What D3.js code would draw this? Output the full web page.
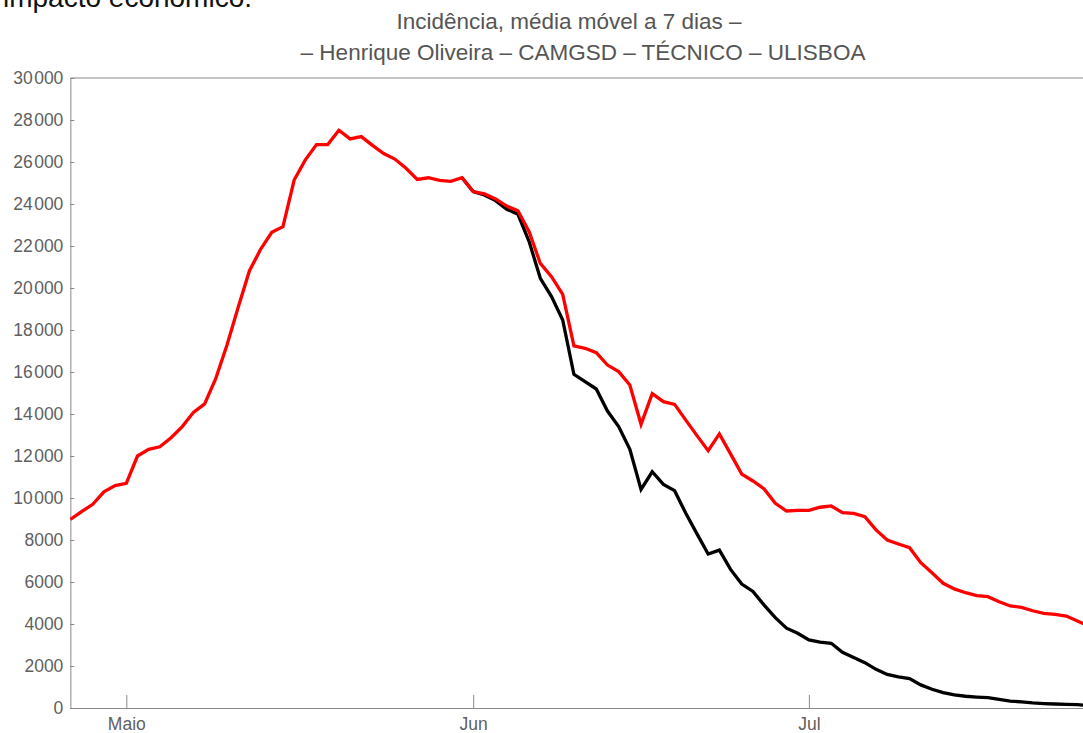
<!DOCTYPE html>
<html>
<head>
<meta charset="utf-8">
<script src="https://cdn.jsdelivr.net/npm/d3@7"></script>
<style>
  html, body { margin: 0; padding: 0; background: #fff; }
  svg { display: block; }
</style>
</head>
<body>
<svg id="chart" width="1083" height="733"></svg>
<script>
// ---- data ----
const startDate = "2022-04-26"; // first daily point
const titleLines = ["Incidência, média móvel a 7 dias –", "– Henrique Oliveira – CAMGSD – TÉCNICO – ULISBOA"];
const headerText = "impacto económico.";
const monthTicks = ["2022-05-01", "2022-06-01", "2022-07-01"];
const monthLabels = ["Maio", "Jun", "Jul"];
const yTicks = [0, 2000, 4000, 6000, 8000, 10000, 12000, 14000, 16000, 18000, 20000, 22000, 24000, 26000, 28000, 30000];
const yTickLabels = ["0", "2000", "4000", "6000", "8000", "10\u200A000", "12\u200A000", "14\u200A000", "16\u200A000", "18\u200A000", "20\u200A000", "22\u200A000", "24\u200A000", "26\u200A000", "28\u200A000", "30\u200A000"];

// red series (observed + slower scenario)
const redValues = [
  8980, 9350, 9700, 10290, 10590, 10700, 12000, 12320, 12440, 12870,
  13400, 14080, 14480, 15700, 17290, 19080, 20810, 21840, 22650, 22920,
  25140, 26100, 26830, 26830, 27510, 27100, 27210, 26790, 26400, 26140,
  25700, 25170, 25250, 25130, 25080, 25250, 24590, 24480, 24240, 23900,
  23680, 22680, 21170, 20540, 19700, 17250, 17130, 16920, 16330, 16020,
  15380, 13510, 14970, 14590, 14460, 13710, 12970, 12250, 13050, 12100,
  11140, 10810, 10430, 9750, 9380, 9410, 9410, 9560, 9620, 9300,
  9270, 9110, 8480, 8000, 7810, 7630, 6920, 6440, 5940, 5670,
  5490, 5350, 5300, 5060, 4860, 4790, 4630, 4510, 4460, 4380,
  4140, 3900
];
// black series (starts where it splits from the red one, index 35)
const blackStartIndex = 35;
const blackValues = [
  25250, 24590, 24430, 24160, 23750, 23510, 22210, 20460, 19590, 18480,
  15890, 15540, 15190, 14140, 13400, 12320, 10410, 11250, 10650, 10350,
  9270, 8290, 7330, 7520, 6600, 5900, 5550, 4900, 4300, 3800,
  3560, 3240, 3140, 3080, 2650, 2410, 2160, 1840, 1600, 1480,
  1400, 1100, 890, 730, 620, 560, 520, 490, 410, 330,
  290, 240, 210, 190, 170, 160, 120
];

// ---- chart ----
const svg = d3.select("#chart");
const parse = d3.utcParse("%Y-%m-%d");
const t0 = parse(startDate);
const dayOf = i => d3.utcDay.offset(t0, i);

const x = d3.scaleUtc()
  .domain([t0, dayOf(91)])
  .range([70.35, 70.35 + 91 * 11.19]);
const y = d3.scaleLinear().domain([0, 30000]).range([708, 78]);

const axisColor = "#8a8a8a";
const labelColor = "#5f5f5f";
const font = "Liberation Sans, Arial, sans-serif";

// header cropped text
svg.append("text")
  .attr("x", 3).attr("y", 7)
  .attr("font-family", font)
  .attr("font-size", 28)
  .attr("fill", "#111")
  .text(headerText);

// titles
const titleY = [29, 60];
const titleX = [569, 583];
titleLines.forEach((t, i) => {
  svg.append("text")
    .attr("x", titleX[i]).attr("y", titleY[i])
    .attr("text-anchor", "middle")
    .attr("font-family", font)
    .attr("font-size", 22.5)
    .attr("fill", "#555")
    .text(t);
});

// clip for plot
svg.append("defs").append("clipPath").attr("id", "clip")
  .append("rect").attr("x", 70).attr("y", 60).attr("width", 1100).attr("height", 650);

// top frame line
svg.append("line")
  .attr("x1", x.range()[0]).attr("x2", 1083)
  .attr("y1", y(30000)).attr("y2", y(30000))
  .attr("stroke", axisColor).attr("stroke-width", 1);

// y axis
const yAxis = d3.axisLeft(y)
  .tickValues(yTicks)
  .tickFormat((d, i) => yTickLabels[i])
  .tickSizeInner(-4).tickSizeOuter(0).tickPadding(7);
const gy = svg.append("g").attr("transform", `translate(${x.range()[0]},0)`).call(yAxis);
gy.select(".domain").attr("stroke", axisColor);
gy.selectAll(".tick line").attr("stroke", axisColor);
gy.selectAll(".tick text")
  .attr("font-family", font)
  .attr("font-size", 17.5).attr("fill", labelColor);

// x axis
const xAxis = d3.axisBottom(x)
  .tickValues(monthTicks.map(parse))
  .tickFormat((d, i) => monthLabels[i])
  .tickSizeInner(-13).tickSizeOuter(0).tickPadding(11);
const gx = svg.append("g").attr("transform", `translate(0,${y(0)})`).call(xAxis);
gx.select(".domain").attr("stroke", axisColor).attr("d", `M${x.range()[0]},0.5H1083`);
gx.selectAll(".tick line").attr("stroke", axisColor);
gx.selectAll(".tick text")
  .attr("font-family", font)
  .attr("font-size", 17.5).attr("fill", labelColor).attr("dy", "0.6em");

// lines
const line = d3.line()
  .x(d => x(d.date))
  .y(d => y(d.value));

const redData = redValues.map((v, i) => ({ date: dayOf(i), value: v }));
const blackData = blackValues.map((v, i) => ({ date: dayOf(blackStartIndex + i), value: v }));

const plot = svg.append("g").attr("clip-path", "url(#clip)");
plot.append("path").datum(blackData)
  .attr("d", line).attr("fill", "none")
  .attr("stroke", "#000").attr("stroke-width", 3.3)
  .attr("stroke-linejoin", "miter");
plot.append("path").datum(redData)
  .attr("d", line).attr("fill", "none")
  .attr("stroke", "#ff0000").attr("stroke-width", 3.3)
  .attr("stroke-linejoin", "miter");
</script>
</body>
</html>
